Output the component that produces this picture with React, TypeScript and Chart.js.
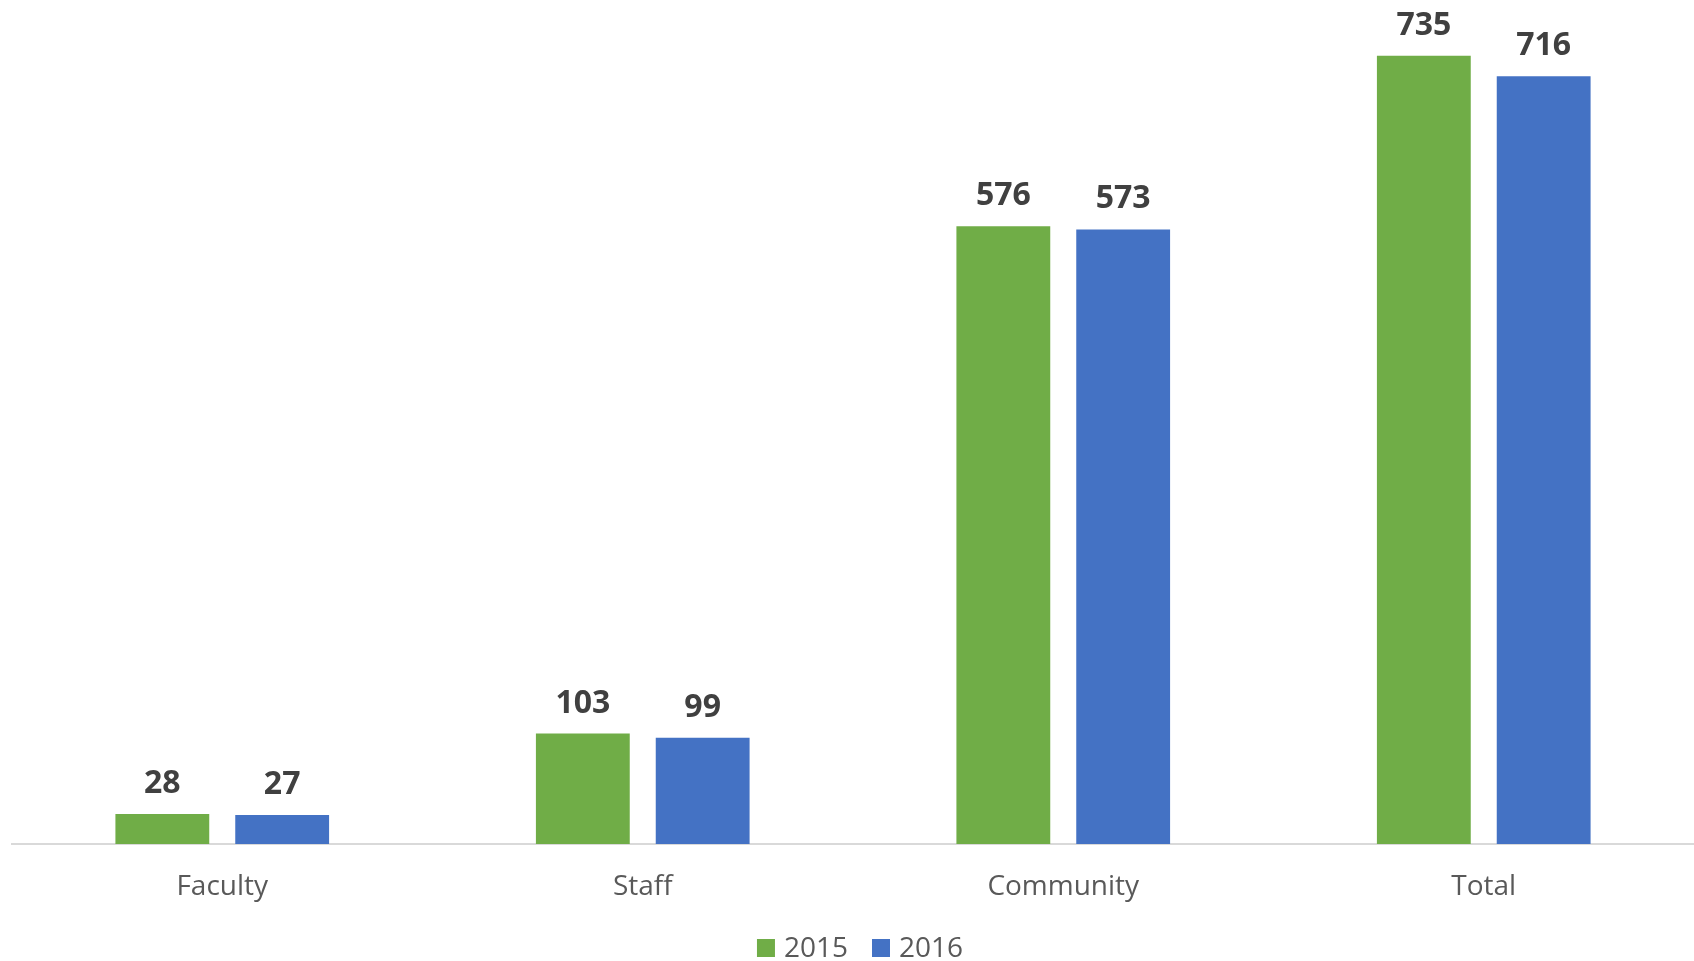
import React, { useEffect, useRef } from "react";
import { Chart, registerables } from "chart.js";

Chart.register(...registerables);

const categories = ["Faculty", "Staff", "Community", "Total"];
const values2015 = [28, 103, 576, 735];
const values2016 = [27, 99, 573, 716];
const seriesLabels = ["2015", "2016"];
const seriesColors = ["#70AD47", "#4472C4"];

const valueLabelPlugin = {
  id: "valueLabels",
  afterDatasetsDraw(chart: any) {
    const ctx = chart.ctx;
    ctx.save();
    ctx.font = "bold 32px 'Open Sans'";
    ctx.fillStyle = "#404040";
    ctx.textAlign = "center";
    ctx.textBaseline = "alphabetic";
    chart.data.datasets.forEach((ds: any, i: number) => {
      const meta = chart.getDatasetMeta(i);
      meta.data.forEach((bar: any, j: number) => {
        ctx.fillText(String(ds.data[j]), bar.x, bar.y - 21);
      });
    });
    ctx.restore();
  },
};

const bottomLegendPlugin = {
  id: "bottomLegend",
  afterDraw(chart: any) {
    const ctx = chart.ctx;
    ctx.save();
    ctx.font = "28px 'Open Sans'";
    ctx.textBaseline = "alphabetic";
    ctx.textAlign = "left";
    const box = 18;
    const gapText = 9;
    const gapItem = 24;
    const items = chart.data.datasets.map((ds: any) => ({
      text: ds.label,
      color: ds.backgroundColor,
      w: ctx.measureText(ds.label).width,
    }));
    const total = items.reduce((s: number, it: any) => s + box + gapText + it.w, 0) + gapItem * (items.length - 1);
    let x = 860 - total / 2;
    const baseline = chart.height - 4;
    items.forEach((it: any) => {
      ctx.fillStyle = it.color;
      ctx.fillRect(x, baseline - box, box, box);
      ctx.fillStyle = "#595959";
      ctx.fillText(it.text, x + box + gapText, baseline);
      x += box + gapText + it.w + gapItem;
    });
    ctx.restore();
  },
};

export default function App() {
  const ref = useRef<HTMLCanvasElement>(null);
  useEffect(() => {
    if (!ref.current) return;
    const chart = new Chart(ref.current, {
      type: "bar",
      data: {
        labels: categories,
        datasets: [
          {
            label: seriesLabels[0],
            data: values2015,
            backgroundColor: seriesColors[0],
            categoryPercentage: 0.57,
            barPercentage: 0.783,
          },
          {
            label: seriesLabels[1],
            data: values2016,
            backgroundColor: seriesColors[1],
            categoryPercentage: 0.57,
            barPercentage: 0.783,
          },
        ],
      },
      options: {
        animation: false,
        responsive: false,
        maintainAspectRatio: false,
        layout: { padding: { left: 12, right: 0, top: 0, bottom: 31 } },
        scales: {
          x: {
            grid: { display: false, drawTicks: false },
            border: { display: true, color: "#d9d9d9", width: 2 },
            ticks: {
              color: "#595959",
              font: { family: "'Open Sans'", size: 28, lineHeight: 1.0 },
              padding: 29,
            },
          },
          y: {
            display: false,
            min: 0,
            max: 787,
          },
        },
        plugins: {
          legend: { display: false },
          tooltip: { enabled: false },
        },
      },
      plugins: [valueLabelPlugin, bottomLegendPlugin],
    });
    return () => chart.destroy();
  }, []);
  return (
    <div style={{ position: "absolute", left: 0, top: 0, width: 1694, height: 961, background: "#fff" }}>
      <canvas ref={ref} width={1694} height={961} style={{ width: 1694, height: 961 }} />
    </div>
  );
}
